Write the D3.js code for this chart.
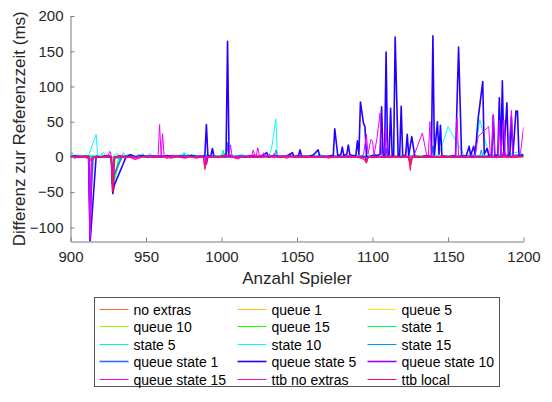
<!DOCTYPE html>
<html>
<head>
<meta charset="utf-8">
<script src="https://cdn.jsdelivr.net/npm/d3@7"></script>
<style>
  html, body { margin: 0; padding: 0; background: #fff; }
  svg { display: block; font-family: "Liberation Sans", Arial, Helvetica, sans-serif; }
</style>
</head>
<body>
<svg id="chart" width="552" height="402"></svg>
<script>
// Series names, in legend order (also drawing order)
const seriesNames = [
  "no extras", "queue 1", "queue 5",
  "queue 10", "queue 15", "state 1",
  "state 5", "state 10", "state 15",
  "queue state 1", "queue state 5", "queue state 10",
  "queue state 15", "ttb no extras", "ttb local"
];
const seriesColors = [
  "#ff6a2a", "#ffb71a", "#ffe61a",
  "#80ff00", "#1aff00", "#00ff40",
  "#00ffa0", "#00ffff", "#0095ff",
  "#2f6bff", "#2400ff", "#a000ff",
  "#f000ff", "#ff10aa", "#ff1048"
];
const thickSeries = ["queue state 1", "queue state 5", "queue state 10"];

const xTicks = [900, 950, 1000, 1050, 1100, 1150, 1200];
const yTicks = [-100, -50, 0, 50, 100, 150, 200];

// [Anzahl Spieler, Differenz in ms]
const noExtras = [[900,1],[905,-1],[912,0],[913,-3],[916,0],[927,0],[928,-45],[929,-2],[935,1],[960,0],[988,0],[989,-10],[991,0],[1030,1],[1095,0],[1096,-5],[1098,0],[1124,0],[1125,-12],[1127,0],[1160,1],[1200,0]];
const queue1 = [[900,0],[927,0],[928,-20],[929,0],[1000,1],[1100,0],[1200,0]];
const queue5 = [[900,1],[930,0],[990,2],[1050,0],[1120,1],[1200,1]];
const queue10 = [[900,0],[915,1],[927,0],[928,-30],[930,0],[960,2],[1000,1],[1060,0],[1120,2],[1200,0]];
const queue15 = [[900,1],[906,2],[912,0],[920,1],[927,0],[928,-48],[929,-35],[933,1],[940,3],[944,0],[950,2],[960,1],[977,0],[978,4],[979,0],[1000,2],[1001,0],[1002,5],[1003,0],[1040,1],[1100,2],[1150,0],[1200,1]];
const state1 = [[900,0],[910,2],[920,1],[927,0],[928,-46],[929,-30],[932,0],[944,0],[945,4],[946,0],[974,0],[975,6],[976,1],[1000,1],[1001,9],[1002,1],[1050,2],[1100,0],[1160,2],[1200,1]];
const state5 = [[900,3],[902,0],[908,2],[913,0],[920,0],[921,5],[922,0],[934,0],[935,6],[936,1],[947,0],[948,5],[949,0],[962,2],[979,0],[980,4],[981,0],[1000,0],[1001,10],[1002,1],[1019,0],[1020,3],[1021,0],[1060,2],[1097,0],[1098,4],[1099,0],[1129,0],[1130,3],[1131,0],[1180,2],[1200,3]];
const state10 = [[900,2],[901,7],[902,1],[905,3],[908,0],[912,2],[917,32],[918,2],[920,1],[922,7],[923,1],[926,3],[927,0],[928,-50],[929,3],[931,5],[932,1],[936,2],[940,4],[941,0],[946,3],[950,1],[953,5],[954,0],[958,2],[964,1],[968,3],[972,0],[976,6],[977,1],[982,3],[986,0],[990,3],[994,1],[998,2],[1002,0],[1006,3],[1010,1],[1014,4],[1015,0],[1020,2],[1024,0],[1028,3],[1031,1],[1033,10],[1036,54],[1037,2],[1040,1],[1045,3],[1050,0],[1055,2],[1060,1],[1066,3],[1070,0],[1076,2],[1082,1],[1088,3],[1092,0],[1097,2],[1102,1],[1108,3],[1114,0],[1120,2],[1124,1],[1125,-10],[1126,2],[1130,0],[1136,2],[1140,1],[1144,3],[1150,43],[1159,9],[1161,2],[1165,3],[1168,5],[1171,53],[1175,20],[1177,3],[1182,2],[1186,6],[1188,2],[1192,5],[1196,7],[1198,4],[1200,5]];
const state15 = [[900,1],[912,0],[913,-60],[914,0],[927,0],[928,-50],[929,-2],[950,2],[989,0],[990,-8],[991,0],[1035,0],[1036,10],[1037,1],[1124,0],[1125,-8],[1126,0],[1171,0],[1172,10],[1173,1],[1200,2]];
const queueState1 = [[900,0],[912,0],[913,-80],[915,0],[927,0],[928,-50],[929,-25],[934,0],[975,2],[1003,0],[1004,20],[1005,1],[1050,0],[1108,0],[1109,12],[1110,0],[1139,0],[1140,15],[1141,0],[1200,1]];
const queueState5 = [[900,0],[903,2],[906,0],[910,1],[912,0],[913,-121],[917,1],[920,0],[924,2],[927,0],[928,-52],[929,-40],[937,1],[940,3],[943,0],[947,2],[951,0],[955,1],[960,0],[964,2],[968,0],[972,1],[976,0],[980,2],[984,0],[988,1],[989,3],[990,46],[991,1],[993,2],[994,12],[995,1],[999,0],[1002,2],[1003,1],[1004,164],[1005,2],[1008,0],[1012,1],[1016,0],[1020,2],[1024,0],[1028,3],[1030,6],[1031,0],[1035,2],[1039,0],[1043,1],[1047,6],[1048,0],[1051,2],[1052,10],[1053,1],[1057,0],[1061,3],[1064,10],[1065,1],[1069,0],[1073,2],[1074,1],[1075,40],[1077,2],[1079,3],[1080,14],[1081,2],[1083,4],[1084,17],[1085,3],[1088,1],[1089,2],[1090,23],[1091,3],[1092,78],[1094,48],[1095,43],[1096,1],[1098,0],[1101,3],[1103,2],[1105,4],[1106,71],[1107,3],[1108,1],[1109,149],[1110,2],[1111,1],[1112,69],[1113,2],[1114,1],[1115,170],[1117,1],[1118,2],[1119,72],[1120,1],[1122,3],[1123,32],[1124,2],[1126,29],[1128,1],[1132,0],[1136,2],[1139,1],[1140,172],[1141,3],[1143,50],[1144,4],[1145,45],[1146,2],[1150,0],[1154,2],[1155,1],[1157,156],[1159,2],[1162,1],[1164,15],[1165,2],[1167,15],[1168,3],[1170,55],[1173,107],[1174,4],[1176,12],[1177,2],[1179,3],[1180,59],[1181,2],[1183,3],[1184,84],[1185,2],[1186,108],[1187,3],[1189,77],[1190,2],[1191,4],[1192,57],[1193,3],[1195,65],[1196,65],[1197,2],[1200,3]];
const queueState10 = [[900,0],[912,1],[913,-118],[914,-3],[916,0],[927,0],[928,-40],[929,0],[960,1],[989,0],[990,-10],[991,0],[1040,1],[1095,0],[1096,-6],[1097,0],[1124,0],[1125,-10],[1126,0],[1186,0],[1187,8],[1188,0],[1200,1]];
const queueState15 = [[900,0],[904,2],[908,-1],[912,1],[913,-112],[914,-2],[918,1],[922,0],[925,3],[926,8],[927,2],[928,-45],[929,0],[933,2],[937,-1],[941,1],[945,-2],[949,1],[953,0],[957,1],[958,1],[959,46],[960,2],[961,33],[962,1],[966,0],[970,2],[974,-1],[978,1],[982,0],[986,2],[988,0],[989,-12],[990,0],[994,1],[998,0],[1002,2],[1005,3],[1006,17],[1007,1],[1011,0],[1015,2],[1018,1],[1020,1],[1021,10],[1022,1],[1023,1],[1024,13],[1025,2],[1027,1],[1028,6],[1029,1],[1032,3],[1034,1],[1035,5],[1036,1],[1040,0],[1044,2],[1048,0],[1052,1],[1056,-1],[1060,1],[1064,0],[1068,2],[1072,0],[1076,1],[1080,0],[1084,2],[1088,0],[1092,1],[1094,3],[1096,32],[1097,4],[1099,25],[1100,22],[1101,2],[1103,27],[1105,62],[1106,3],[1108,5],[1109,40],[1110,2],[1114,1],[1118,0],[1122,2],[1124,0],[1125,-8],[1126,1],[1128,5],[1133,34],[1136,1],[1137,3],[1138,50],[1139,2],[1143,0],[1147,2],[1151,0],[1155,2],[1156,55],[1157,1],[1161,0],[1165,2],[1168,3],[1170,29],[1177,43],[1178,2],[1179,5],[1180,60],[1181,3],[1183,4],[1184,52],[1185,3],[1187,52],[1188,2],[1190,4],[1192,66],[1193,2],[1196,3],[1198,5],[1200,42]];
const ttbNoExtras = [[900,2],[903,-1],[907,1],[911,-2],[912,-1],[913,-6],[915,-1],[919,1],[923,-1],[926,2],[927,0],[928,-48],[929,1],[933,-1],[937,2],[941,-2],[944,-3],[947,0],[951,1],[955,-1],[959,2],[963,0],[967,-2],[971,1],[975,-1],[979,1],[983,-2],[987,0],[988,0],[989,-15],[990,-1],[994,2],[998,-1],[1002,1],[1006,3],[1007,0],[1011,-2],[1015,1],[1019,-1],[1022,4],[1023,0],[1027,-1],[1031,2],[1035,-1],[1039,1],[1043,-2],[1047,1],[1051,-1],[1055,2],[1059,0],[1063,-1],[1067,1],[1071,-2],[1075,1],[1079,-1],[1083,2],[1087,0],[1091,-1],[1095,-4],[1096,-8],[1097,0],[1101,1],[1105,-1],[1109,2],[1113,0],[1117,-1],[1121,1],[1124,0],[1125,-12],[1126,0],[1130,1],[1134,-1],[1138,2],[1142,0],[1146,-1],[1150,1],[1154,-1],[1158,2],[1162,0],[1166,-1],[1170,1],[1174,-1],[1178,1],[1182,0],[1186,2],[1190,-1],[1194,1],[1198,0],[1200,1]];
const ttbLocal = [[900,1],[903,-2],[906,2],[909,0],[912,1],[913,-4],[915,-3],[917,1],[920,0],[924,2],[927,1],[928,-50],[929,0],[932,2],[936,1],[940,-1],[943,-4],[945,1],[949,0],[952,2],[956,-1],[960,1],[964,-2],[968,1],[972,0],[976,-2],[980,1],[984,-1],[988,0],[989,-18],[990,-2],[993,1],[997,0],[1000,2],[1004,1],[1008,-1],[1011,-3],[1014,1],[1018,0],[1022,-1],[1026,2],[1030,0],[1034,1],[1038,-1],[1042,0],[1046,1],[1050,-1],[1054,0],[1058,1],[1062,-1],[1066,0],[1070,1],[1074,-1],[1078,0],[1082,1],[1086,-1],[1090,0],[1094,-2],[1096,-9],[1097,-1],[1100,0],[1104,1],[1108,-1],[1112,0],[1116,1],[1120,0],[1124,-1],[1125,-19],[1126,-1],[1130,0],[1134,1],[1138,-1],[1142,0],[1146,1],[1150,0],[1154,-1],[1158,1],[1162,0],[1166,-1],[1170,1],[1174,0],[1178,1],[1182,-1],[1186,0],[1190,1],[1194,-1],[1198,1],[1200,0]];

const seriesValues = [
  noExtras, queue1, queue5,
  queue10, queue15, state1,
  state5, state10, state15,
  queueState1, queueState5, queueState10,
  queueState15, ttbNoExtras, ttbLocal
];

const svg = d3.select("#chart");
const plot = { left: 70.5, right: 523.5, top: 16, bottom: 241.5 };

const x = d3.scaleLinear().domain([900, 1200]).range([plot.left, plot.right]);
const y = d3.scaleLinear().domain([-120, 200]).range([plot.bottom, plot.top]);

svg.append("defs").append("clipPath").attr("id", "plotClip")
  .append("rect")
  .attr("x", plot.left).attr("y", plot.top)
  .attr("width", plot.right - plot.left)
  .attr("height", plot.bottom - plot.top);

// data lines
const line = d3.line().x(d => x(d[0])).y(d => y(d[1]));
const lines = svg.append("g").attr("clip-path", "url(#plotClip)");
seriesValues.forEach((vals, i) => {
  lines.append("path")
    .attr("d", line(vals))
    .attr("fill", "none")
    .attr("stroke", seriesColors[i])
    .attr("stroke-width", thickSeries.includes(seriesNames[i]) ? 1.6 : 1)
    .attr("stroke-linejoin", "round");
});

// axes: left and bottom only, ticks pointing inward
const axisColor = "#7a7a7a";
const textColor = "#262626";

const xAxis = svg.append("g")
  .attr("transform", `translate(0,${plot.bottom})`)
  .call(d3.axisBottom(x).tickValues(xTicks).tickFormat(d3.format("d"))
    .tickSizeInner(-4).tickSizeOuter(0).tickPadding(10));
const yAxis = svg.append("g")
  .attr("transform", `translate(${plot.left},0)`)
  .call(d3.axisLeft(y).tickValues(yTicks).tickFormat(d3.format("d"))
    .tickSizeInner(-4).tickSizeOuter(0).tickPadding(7));

[xAxis, yAxis].forEach(g => {
  g.select(".domain").attr("stroke", axisColor);
  g.selectAll(".tick line").attr("stroke", axisColor);
  g.selectAll(".tick text").attr("fill", textColor)
    .style("font-size", "15px")
    .style("font-family", "'Liberation Sans', Arial, Helvetica, sans-serif");
});

// axis titles
svg.append("text")
  .attr("x", (plot.left + plot.right) / 2)
  .attr("y", 284)
  .attr("text-anchor", "middle")
  .attr("fill", textColor)
  .style("font-size", "17px")
  .text("Anzahl Spieler");

svg.append("text")
  .attr("transform", `translate(25,${(plot.top + plot.bottom) / 2}) rotate(-90)`)
  .attr("text-anchor", "middle")
  .attr("fill", textColor)
  .style("font-size", "17px")
  .text("Differenz zur Referenzzeit (ms)");

// legend: 3 columns, 5 rows
const legend = svg.append("g");
legend.append("rect")
  .attr("x", 94.5).attr("y", 297.5)
  .attr("width", 405).attr("height", 89)
  .attr("fill", "#fff")
  .attr("stroke", "#555")
  .attr("stroke-width", 1);

const colStarts = [99.5, 237.5, 367.5];
const rowY0 = 308.5, rowStep = 17.5;
seriesNames.forEach((name, i) => {
  const col = i % 3, row = Math.floor(i / 3);
  const cy = Math.round(rowY0 + row * rowStep) + 0.5;
  const lx = colStarts[col];
  legend.append("line")
    .attr("x1", lx).attr("x2", lx + 29)
    .attr("y1", cy).attr("y2", cy)
    .attr("stroke", seriesColors[i])
    .attr("stroke-width", thickSeries.includes(name) ? 1.6 : 1);
  legend.append("text")
    .attr("x", lx + 34)
    .attr("y", cy + 5)
    .attr("fill", "#000")
    .style("font-size", "14px")
    .text(name);
});
</script>
</body>
</html>
